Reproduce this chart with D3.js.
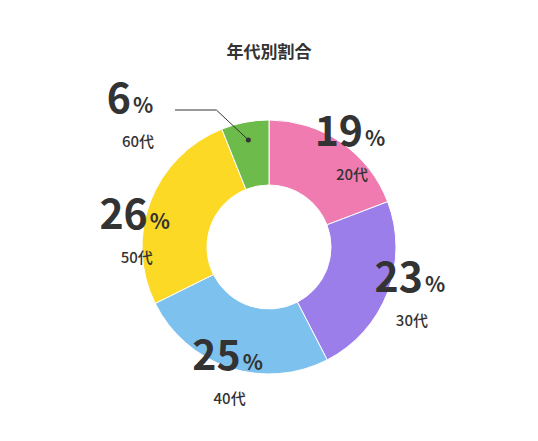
<!DOCTYPE html>
<html><head><meta charset="utf-8">
<script src="https://cdn.jsdelivr.net/npm/d3@7"></script>
<style>body{margin:0;background:#fff;font-family:"Noto Sans CJK JP","Noto Sans",sans-serif;}</style>
</head><body><div id="chart"></div>
<script>
const ages = ["20代", "30代", "40代", "50代", "60代"];
const shares = [19, 23, 25, 26, 6];
const colors = ["#ef7bb1", "#9c7eeb", "#7dc1ee", "#fcd925", "#6dbb4a"];
// label placement: [angle in degrees clockwise from top, distance from centre]
const labelPos = [[40, 126], [109, 149], [198, 134], [276, 135], [313, 190]];

const w = 538, h = 441, cx = 269, cy = 247;
const svg = d3.select("#chart").append("svg").attr("width", w).attr("height", h);

svg.append("text").attr("x", cx).attr("y", 58).attr("text-anchor", "middle")
  .attr("font-size", 17).attr("font-weight", 700).attr("fill", "#333").text("年代別割合");

const data = ages.map((a, i) => ({age: a, value: shares[i], color: colors[i], pos: labelPos[i]}));
const pie = d3.pie().value(d => d.value).sort(null);
const arcs = pie(data);
const arc = d3.arc().innerRadius(62).outerRadius(127);
const pointArc = d3.arc().innerRadius(109).outerRadius(109);

const g = svg.append("g").attr("transform", `translate(${cx},${cy})`);
g.selectAll("path").data(arcs).enter().append("path")
  .attr("d", arc).attr("fill", d => d.data.color)
  .attr("stroke", "#fff").attr("stroke-width", 1);

const labels = g.selectAll("g.lab").data(arcs).enter().append("g").attr("class", "lab")
  .attr("transform", d => {
    const a = d.data.pos[0] * Math.PI / 180, r = d.data.pos[1];
    return `translate(${r * Math.sin(a)},${-r * Math.cos(a)})`;
  });
const num = labels.append("text").attr("text-anchor", "middle").attr("fill", "#333")
  .attr("font-weight", 700).attr("y", -4);
num.append("tspan").attr("font-size", 41).text(d => d.data.value);
num.append("tspan").attr("font-size", 21).attr("dx", 2).text("%");
labels.append("text").attr("text-anchor", "middle").attr("y", 30)
  .attr("x", d => d.data.value < 10 ? 8 : 2)
  .attr("font-size", 15).attr("font-weight", 500).attr("fill", "#333").text(d => d.data.age);

// leader line for the small slice
const small = arcs[4];
const [px, py] = pointArc.centroid(small);
g.append("polyline")
  .attr("points", `${px},${py} ${px - 32},${-137} ${-94},${-137}`)
  .attr("fill", "none").attr("stroke", "#333").attr("stroke-width", 1);
g.append("circle").attr("cx", px).attr("cy", py).attr("r", 2.5).attr("fill", "#333");
</script></body></html>
